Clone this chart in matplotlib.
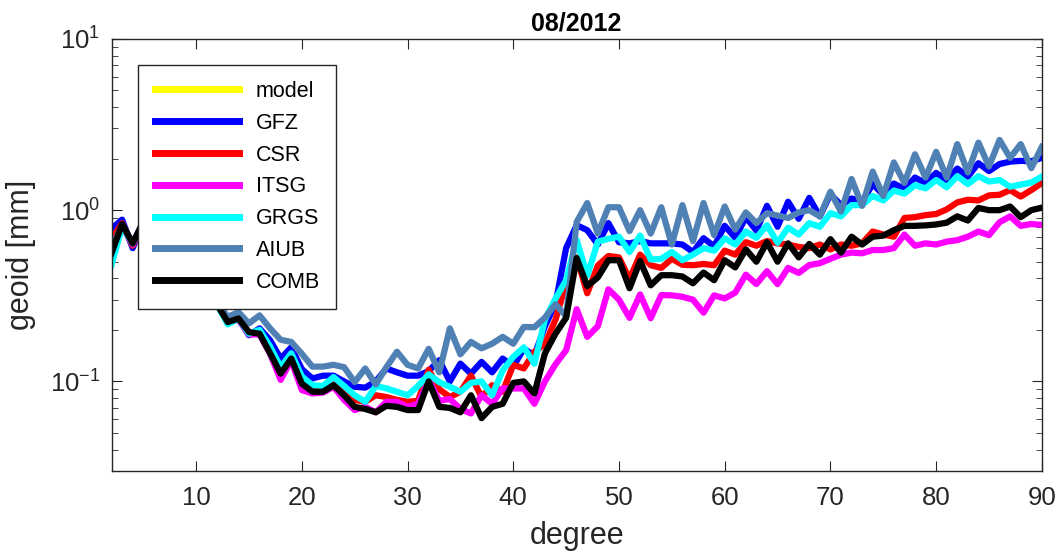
import numpy as np
import matplotlib.pyplot as plt
from matplotlib.ticker import LogLocator, NullFormatter, FixedLocator

plt.rcParams['font.family'] = ['Liberation Sans', 'DejaVu Sans']

# spherical harmonic degree 2..90
degree = np.arange(2, 91)

# geoid degree amplitudes [mm]
model = []  # not visible in the plot, legend entry only

gfz = [0.78, 0.88, 0.60, 0.85, 0.72, 0.62, 0.52, 0.43, 0.36, 0.31,
       0.29, 0.22, 0.233, 0.186, 0.204, 0.174, 0.136, 0.158, 0.118, 0.104,
       0.108, 0.108, 0.100, 0.093, 0.092, 0.100, 0.119, 0.113, 0.108, 0.108,
       0.115, 0.133, 0.100, 0.127, 0.111, 0.130, 0.113, 0.136, 0.122, 0.155,
       0.142, 0.21, 0.286, 0.60, 0.817, 0.764, 0.63, 0.84, 0.65, 0.64,
       0.66, 0.64, 0.64, 0.64, 0.63, 0.57, 0.686, 0.615, 0.81, 0.69,
       0.91, 0.76, 1.06, 0.80, 1.12, 0.89, 1.18, 0.92, 1.24, 1.07,
       1.17, 1.12, 1.42, 1.23, 1.43, 1.33, 1.55, 1.44, 1.65, 1.5,
       1.75, 1.57, 1.88, 1.69, 1.86, 1.92, 1.94, 1.93, 2.02]

csr = [0.67, 0.84, 0.62, 0.84, 0.71, 0.61, 0.51, 0.42, 0.35, 0.30,
       0.28, 0.222, 0.233, 0.19, 0.192, 0.15, 0.113, 0.139, 0.102, 0.092,
       0.092, 0.098, 0.087, 0.078, 0.076, 0.083, 0.081, 0.078, 0.076, 0.077,
       0.117, 0.09, 0.081, 0.087, 0.108, 0.081, 0.095, 0.087, 0.125, 0.119,
       0.149, 0.165, 0.23, 0.374, 0.53, 0.327, 0.475, 0.54, 0.53, 0.395,
       0.55, 0.477, 0.46, 0.52, 0.48, 0.477, 0.485, 0.477, 0.58, 0.55,
       0.65, 0.62, 0.66, 0.64, 0.63, 0.61, 0.60, 0.63, 0.59, 0.63,
       0.62, 0.64, 0.75, 0.72, 0.70, 0.9, 0.91, 0.935, 0.95, 1.01,
       1.11, 1.15, 1.14, 1.22, 1.23, 1.31, 1.2, 1.31, 1.44]

itsg = [0.52, 0.80, 0.63, 0.83, 0.70, 0.60, 0.50, 0.41, 0.34, 0.29,
        0.28, 0.22, 0.23, 0.188, 0.188, 0.145, 0.102, 0.133, 0.089, 0.085,
        0.086, 0.093, 0.078, 0.068, 0.071, 0.066, 0.076, 0.076, 0.071, 0.074,
        0.102, 0.077, 0.079, 0.069, 0.065, 0.083, 0.074, 0.091, 0.091, 0.091,
        0.074, 0.10, 0.126, 0.152, 0.264, 0.182, 0.21, 0.345, 0.30, 0.235,
        0.322, 0.234, 0.319, 0.318, 0.312, 0.30, 0.252, 0.318, 0.305, 0.33,
        0.42, 0.37, 0.44, 0.37, 0.46, 0.43, 0.478, 0.49, 0.52, 0.55,
        0.565, 0.56, 0.585, 0.585, 0.6, 0.72, 0.62, 0.64, 0.63, 0.655,
        0.668, 0.70, 0.75, 0.715, 0.85, 0.92, 0.81, 0.83, 0.82]

grgs = [0.48, 0.80, 0.64, 0.84, 0.71, 0.61, 0.51, 0.42, 0.34, 0.29,
        0.28, 0.215, 0.233, 0.19, 0.2, 0.16, 0.121, 0.146, 0.107, 0.095,
        0.094, 0.106, 0.094, 0.083, 0.076, 0.094, 0.091, 0.087, 0.083, 0.094,
        0.11, 0.099, 0.093, 0.087, 0.098, 0.1, 0.083, 0.116, 0.139, 0.158,
        0.127, 0.23, 0.305, 0.39, 0.67, 0.415, 0.655, 0.68, 0.70, 0.57,
        0.71, 0.515, 0.52, 0.57, 0.51, 0.55, 0.60, 0.58, 0.685, 0.63,
        0.75, 0.69, 0.817, 0.645, 0.79, 0.72, 0.84, 0.80, 0.96, 0.92,
        1.07, 1.07, 1.21, 1.14, 1.3, 1.25, 1.4, 1.34, 1.5, 1.36,
        1.58, 1.42, 1.58, 1.47, 1.5, 1.37, 1.41, 1.45, 1.57]

aiub = [0.60, 0.82, 0.64, 0.86, 0.72, 0.63, 0.53, 0.44, 0.37, 0.31,
        0.29, 0.238, 0.254, 0.218, 0.243, 0.204, 0.175, 0.17, 0.145, 0.122,
        0.122, 0.125, 0.121, 0.099, 0.119, 0.096, 0.121, 0.149, 0.125, 0.119,
        0.155, 0.113, 0.204, 0.144, 0.17, 0.156, 0.166, 0.182, 0.166, 0.208,
        0.207, 0.236, 0.282, 0.24, 0.854, 1.1, 0.73, 1.04, 1.04, 0.755,
        1.0, 0.73, 1.04, 0.63, 1.07, 0.66, 1.1, 0.715, 1.05, 0.77,
        0.97, 0.84, 0.96, 0.93, 0.9, 0.97, 1.0, 0.92, 1.28, 0.98,
        1.52, 1.06, 1.68, 1.21, 1.9, 1.44, 2.12, 1.55, 2.19, 1.55,
        2.43, 1.66, 2.48, 1.8, 2.57, 2.02, 2.43, 1.76, 2.34]

comb = [0.56, 0.83, 0.64, 0.85, 0.71, 0.61, 0.51, 0.42, 0.35, 0.30,
        0.28, 0.222, 0.233, 0.194, 0.19, 0.146, 0.111, 0.136, 0.097, 0.087,
        0.087, 0.095, 0.083, 0.071, 0.069, 0.066, 0.072, 0.071, 0.068, 0.068,
        0.1, 0.071, 0.07, 0.066, 0.083, 0.061, 0.071, 0.074, 0.098, 0.1,
        0.085, 0.146, 0.19, 0.235, 0.525, 0.36, 0.405, 0.51, 0.51, 0.35,
        0.505, 0.364, 0.417, 0.417, 0.41, 0.374, 0.432, 0.39, 0.51, 0.463,
        0.59, 0.50, 0.65, 0.50, 0.64, 0.53, 0.635, 0.55, 0.677, 0.565,
        0.70, 0.63, 0.70, 0.71, 0.764, 0.81, 0.81, 0.815, 0.825, 0.845,
        0.92, 0.87, 1.03, 1.0, 1.0, 1.05, 0.91, 1.0, 1.035]

labels = ['model', 'GFZ', 'CSR', 'ITSG', 'GRGS', 'AIUB', 'COMB']
colors = ['#ffff00', '#0000ff', '#ff0000', '#ff00ff', '#00ffff', '#4f81b5', '#000000']

fig = plt.figure(figsize=(10.56, 5.56), dpi=100)
ax = fig.add_axes([0.1056, 0.153, 0.881, 0.777])

ax.plot(model, model, color=colors[0], lw=4.5, label=labels[0])
for vals, lab, col in zip([gfz, csr, itsg, grgs, aiub, comb], labels[1:], colors[1:]):
    ax.plot(degree, vals, color=col, lw=4.5, label=lab)

ax.set_yscale('log')
ax.set_xlim(2, 90)
ax.set_ylim(0.03, 10)
ax.xaxis.set_major_locator(FixedLocator([10, 20, 30, 40, 50, 60, 70, 80, 90]))
ax.yaxis.set_major_locator(LogLocator(base=10))
ax.yaxis.set_minor_locator(LogLocator(base=10, subs=np.arange(2, 10)))
ax.yaxis.set_minor_formatter(NullFormatter())

axcol = '#262626'
for s in ax.spines.values():
    s.set_color(axcol)
    s.set_linewidth(1.0)
ax.tick_params(which='both', direction='in', top=True, right=True,
               colors=axcol, labelsize=18.5, labelcolor=axcol)
ax.tick_params(which='major', length=7)
ax.tick_params(which='minor', length=4)
ax.tick_params(axis='x', pad=11)
ax.tick_params(axis='y', pad=8)

ax.set_xlabel('degree', fontsize=22, color=axcol, labelpad=8)
ax.set_ylabel('geoid [mm]', fontsize=22, color=axcol, labelpad=10)
ax.set_title('08/2012', fontsize=18, fontweight='bold', pad=6)

leg = ax.legend(loc='upper left', bbox_to_anchor=(0.029, 0.94), fontsize=15.5,
                handlelength=3.9, handletextpad=0.8, labelspacing=0.5,
                borderaxespad=0, fancybox=False, framealpha=1,
                edgecolor=axcol, borderpad=0.75)
leg.get_frame().set_linewidth(1.0)
for line in leg.get_lines():
    line.set_linewidth(5)

fig.savefig('out.png', dpi=100)
